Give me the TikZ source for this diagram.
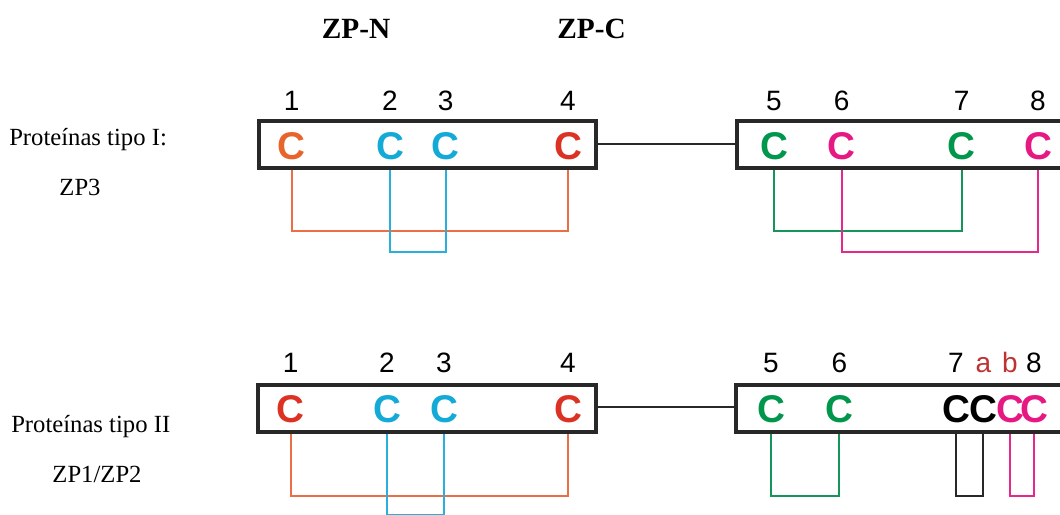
\documentclass[tikz,border=0pt]{standalone}
\usepackage{fontspec}
\setmainfont{Liberation Serif}
\newfontfamily\lsans{Liberation Sans}
\usetikzlibrary{fit}
\definecolor{cOrange}{RGB}{232,100,45}
\definecolor{cRed}{RGB}{220,50,35}
\definecolor{cBlue}{RGB}{20,170,215}
\definecolor{cGreen}{RGB}{0,150,75}
\definecolor{cMag}{RGB}{230,25,130}
\definecolor{cLab}{RGB}{190,50,50}
\definecolor{lOrange}{RGB}{235,110,70}
\definecolor{lBlue}{RGB}{40,175,220}
\definecolor{lGreen}{RGB}{20,150,90}
\definecolor{lMag}{RGB}{230,40,140}
\definecolor{lBlack}{RGB}{40,40,40}
\tikzset{
  cysC/.style={inner sep=0pt, font=\lsans\fontsize{29}{29}\selectfont\bfseries},
  numtxt/.style={inner sep=0pt, anchor=base, font=\lsans\fontsize{21}{21}\selectfont},
  ttltxt/.style={inner sep=0pt, anchor=base, font=\fontsize{22}{22}\selectfont\bfseries},
  labtxt/.style={inner sep=0pt, font=\fontsize{18.5}{18.5}\selectfont},
  dombox/.style={draw=lBlack, line width=2.3pt, inner sep=0pt},
  linkln/.style={draw=lBlack, line width=1.6pt},
  bondln/.style={line width=1.5pt},
}
\begin{document}
\begin{tikzpicture}[x=0.75pt, y=-0.75pt]
\useasboundingbox (0,0) rectangle (1060,514);
\clip (0,0) rectangle (1060,514);

% titles
\node[ttltxt] (tN) at (356,38) {ZP-N};
\node[ttltxt] (tC) at (591.5,38) {ZP-C};

% side labels
\node[labtxt, anchor=base west] (l1) at (9,145) {Proteínas tipo I:};
\node[labtxt, anchor=base] (l2) at (80,195) {ZP3};
\node[labtxt, anchor=base west] (l3) at (11,432.5) {Proteínas tipo II};
\node[labtxt, anchor=base] (l4) at (97,482) {ZP1/ZP2};

% ---------- type I ----------
\coordinate (bNa1) at (259,121);
\coordinate (bNa2) at (596,168);
\node[dombox, fit=(bNa1)(bNa2)] (bNa) {};
\coordinate (bCa1) at (737,121);
\coordinate (bCa2) at (1080,168);
\node[dombox, fit=(bCa1)(bCa2)] (bCa) {};
\draw[linkln] (bNa.east |- 0,144) coordinate (ja) -- (bCa.west |- ja) coordinate (jb);

\node[cysC, text=cOrange] (a1) at (291.7,146) {C};
\node[cysC, text=cBlue] (a2) at (390,146) {C};
\node[cysC, text=cBlue] (a3) at (445.7,146) {C};
\node[cysC, text=cRed] (a4) at (568,146) {C};
\node[cysC, text=cGreen] (a5) at (774,146) {C};
\node[cysC, text=cMag] (a6) at (841.7,146) {C};
\node[cysC, text=cGreen] (a7) at (961.7,146) {C};
\node[cysC, text=cMag] (a8) at (1038,146) {C};

\foreach \i in {1,...,8} {\node[numtxt] (na\i) at (a\i |- 0,110) {\i};}

\draw[bondln, lOrange] (a1 |- bNa.south) -- ++(0,61.3) -| (a4 |- bNa.south);
\draw[bondln, lBlue] (a2 |- bNa.south) -- ++(0,82) -| (a3 |- bNa.south);
\draw[bondln, lGreen] (a5 |- bCa.south) -- ++(0,61) -| (a7 |- bCa.south);
\draw[bondln, lMag] (a6 |- bCa.south) -- ++(0,82.7) -| (a8 |- bCa.south);

% ---------- type II ----------
\coordinate (bNb1) at (258,385);
\coordinate (bNb2) at (596,432);
\node[dombox, fit=(bNb1)(bNb2)] (bNb) {};
\coordinate (bCb1) at (736,385);
\coordinate (bCb2) at (1080,432);
\node[dombox, fit=(bCb1)(bCb2)] (bCb) {};
\draw[linkln] (bNb.east |- 0,407) coordinate (jc) -- (bCb.west |- jc) coordinate (jd);

\node[cysC, text=cRed] (b1) at (290.7,409) {C};
\node[cysC, text=cBlue] (b2) at (387,409) {C};
\node[cysC, text=cBlue] (b3) at (444,409) {C};
\node[cysC, text=cRed] (b4) at (568,409) {C};
\node[cysC, text=cGreen] (b5) at (771,409) {C};
\node[cysC, text=cGreen] (b6) at (839.3,409) {C};
\node[cysC, text=black] (b7) at (956,409) {C};
\node[cysC, text=black] (ba) at (983.3,409) {C};
\node[cysC, text=cMag] (bb) at (1010,409) {C};
\node[cysC, text=cMag] (b8) at (1034,409) {C};

\foreach \i in {1,...,8} {\node[numtxt] (nb\i) at (b\i |- 0,372) {\i};}
\node[numtxt, text=cLab] (nba) at (ba |- 0,372) {a};
\node[numtxt, text=cLab] (nbb) at (bb |- 0,372) {b};

\draw[bondln, lOrange] (b1 |- bNb.south) -- ++(0,62) -| (b4 |- bNb.south);
\draw[bondln, lBlue] (b2 |- bNb.south) -- ++(0,81) -| (b3 |- bNb.south);
\draw[bondln, lGreen] (b5 |- bCb.south) -- ++(0,62) -| (b6 |- bCb.south);
\draw[bondln, lBlack] (b7 |- bCb.south) -- ++(0,62) -| (ba |- bCb.south);
\draw[bondln, lMag] (bb |- bCb.south) -- ++(0,62) -| (b8 |- bCb.south);
\end{tikzpicture}
\end{document}
